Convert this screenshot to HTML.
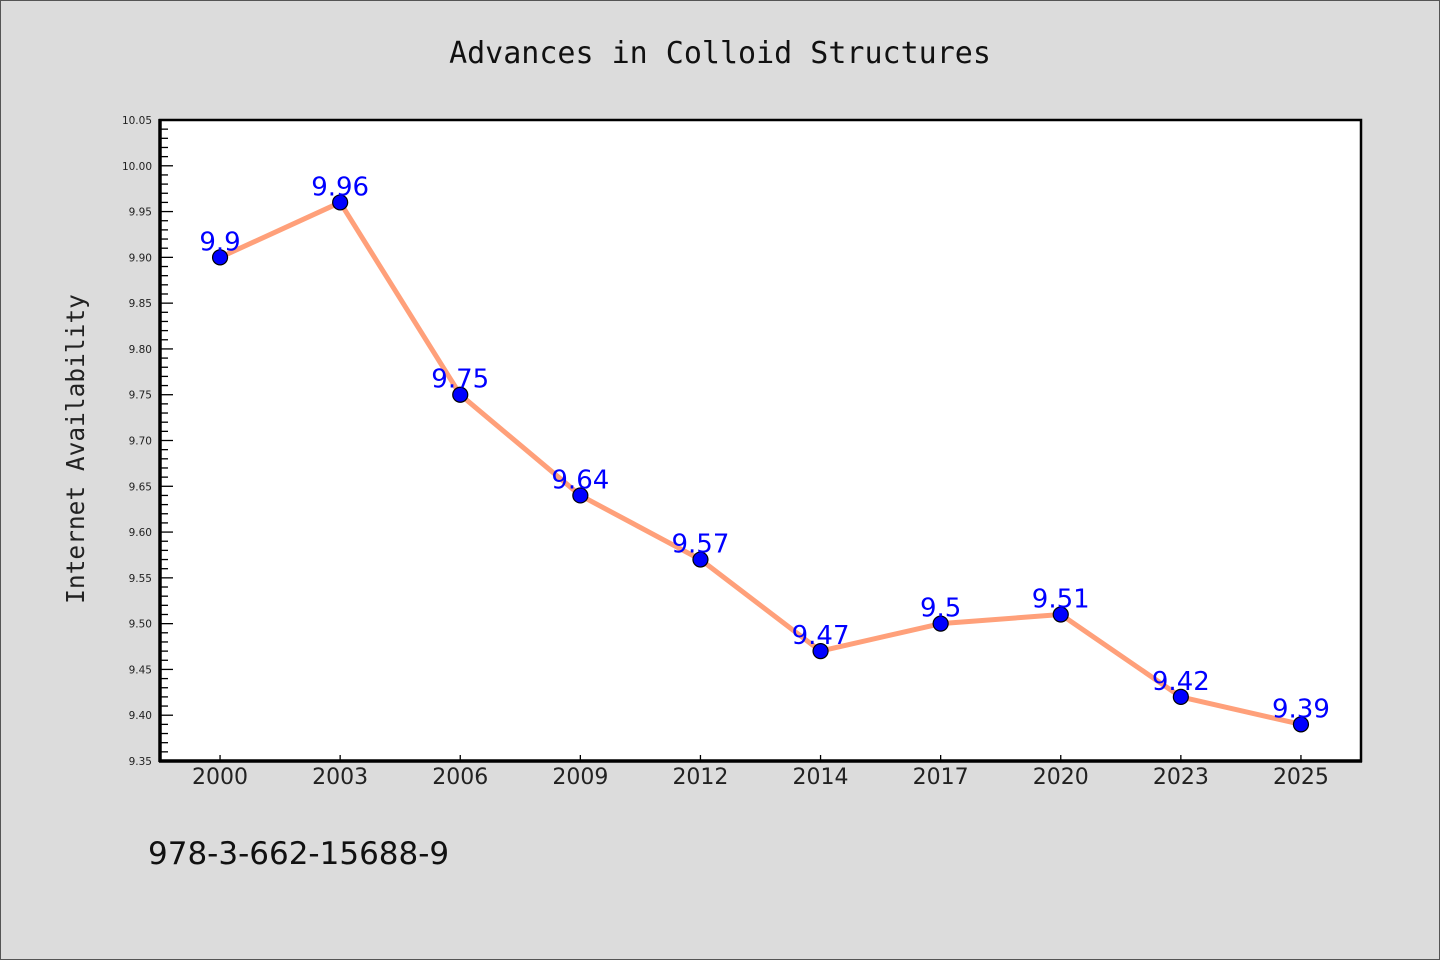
<!DOCTYPE html>
<html><head><meta charset="utf-8"><style>
body{margin:0;background:#dcdcdc;}
svg{display:block}
</style></head><body>
<svg width="1440" height="960" xmlns="http://www.w3.org/2000/svg">
<rect x="0.5" y="0.5" width="1439" height="959" fill="#dcdcdc" stroke="#555"/>
<text x="720" y="63" text-anchor="middle" font-family="DejaVu Sans Mono, Liberation Mono, monospace" font-size="30" fill="#111">Advances in Colloid Structures</text>
<rect x="160" y="120" width="1201" height="641" fill="#fff"/>
<g id="yaxis"></g>
<g id="xaxis"></g>
<g id="marks"></g>
<rect x="160" y="120" width="1201" height="641" fill="none" stroke="#000" stroke-width="2.5"/>
<line x1="160" y1="119" x2="160" y2="762" stroke="#000" stroke-width="3.5"/>
<line x1="159" y1="761" x2="1362" y2="761" stroke="#000" stroke-width="3.5"/>
<text transform="translate(84,449) rotate(-90)" text-anchor="middle" font-family="DejaVu Sans Mono, Liberation Mono, monospace" font-size="24.5" fill="#222">Internet Availability</text>
<text x="148" y="864" font-family="DejaVu Sans, Liberation Sans, sans-serif" font-size="31" fill="#111">978-3-662-15688-9</text>
</svg>
<script>
const categories=["2000","2003","2006","2009","2012","2014","2017","2020","2023","2025"];
const values=[9.9,9.96,9.75,9.64,9.57,9.47,9.5,9.51,9.42,9.39];
const yTicks=["9.35","9.40","9.45","9.50","9.55","9.60","9.65","9.70","9.75","9.80","9.85","9.90","9.95","10.00","10.05"];
const NS="http://www.w3.org/2000/svg";
const yMin=9.35,yMax=10.05,plotTop=120,plotBot=761,plotLeft=160,plotRight=1361;
const yScale=v=>plotBot-(v-yMin)/(yMax-yMin)*(plotBot-plotTop);
const xScale=i=>plotLeft+(plotRight-plotLeft)/categories.length*(i+0.5);
function mk(tag,attrs,parent,txt){const e=document.createElementNS(NS,tag);for(const k in attrs)e.setAttribute(k,attrs[k]);if(txt!==undefined)e.textContent=txt;parent.appendChild(e);return e;}
const ya=document.getElementById('yaxis'),xa=document.getElementById('xaxis'),mg=document.getElementById('marks');
for(let k=0;k<=Math.round((yMax-yMin)/0.01);k++){const v=yMin+k*0.01;const major=k%5===0;
const t=mk('line',{x1:plotLeft,x2:plotLeft+(major?13:8),y1:yScale(v),y2:yScale(v),stroke:'#000','stroke-width':1.3},ya);

}
yTicks.forEach(s=>{const t=mk('text',{x:152,y:yScale(parseFloat(s))+4,'text-anchor':'end','font-family':'DejaVu Sans, Liberation Sans, sans-serif','font-size':10.5,fill:'#222'},ya,s);

});
categories.forEach((c,i)=>{const l=mk('line',{x1:xScale(i),x2:xScale(i),y1:plotBot,y2:plotBot-6,stroke:'#000','stroke-width':1.3},xa);


const t=mk('text',{x:xScale(i),y:784,'text-anchor':'middle','font-family':'DejaVu Sans, Liberation Sans, sans-serif','font-size':22,fill:'#222'},xa,c);

});
const line=mk('polyline',{points:values.map((v,i)=>xScale(i)+','+yScale(v)).join(' '),fill:'none',stroke:'#ffa07a','stroke-width':5,'stroke-linejoin':'round'},mg);


values.forEach((v,i)=>{const c=mk('circle',{cx:xScale(i),cy:yScale(v),r:7.5,fill:'#0000ff',stroke:'#000','stroke-width':1.2},mg);


const t=mk('text',{x:xScale(i),y:yScale(v)-7,'text-anchor':'middle','font-family':'DejaVu Sans, Liberation Sans, sans-serif','font-size':26,fill:'#0000ff'},mg,String(v));

});
</script>
</body></html>
